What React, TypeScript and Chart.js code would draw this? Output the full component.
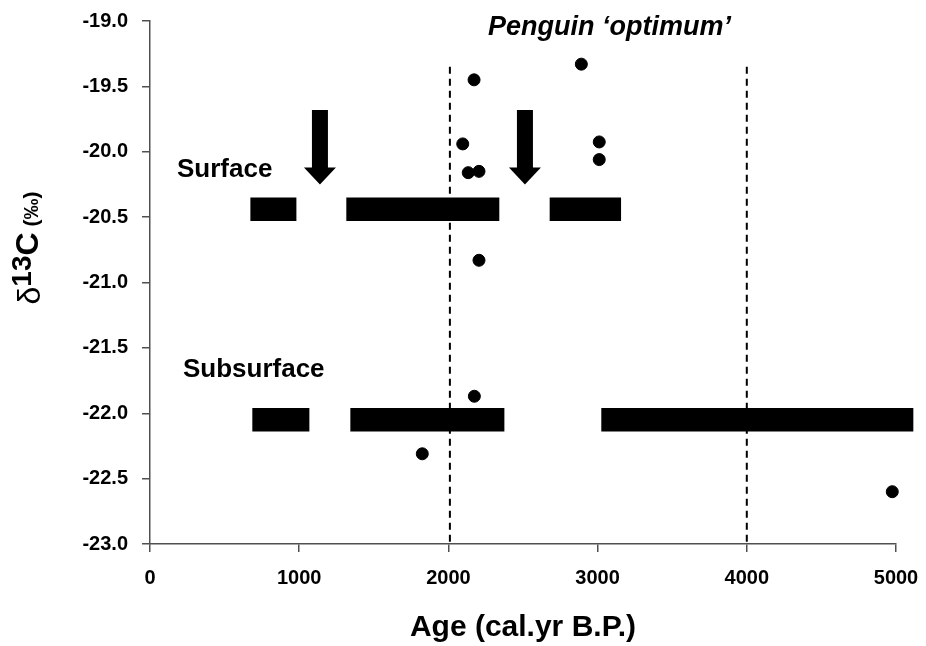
import { useEffect, useRef } from 'react';
import { Chart, registerables } from 'chart.js';

Chart.register(...registerables);

// ---- data ----
const surfaceLevel = -20.44;
const subsurfaceLevel = -22.05;
const surfaceRanges: [number, number][] = [[675, 979], [1318, 2339], [2681, 3155]];
const subsurfaceRanges: [number, number][] = [[688, 1066], [1345, 2373], [3027, 5114]];

const pointAges = [2172, 2891, 2096, 2133, 2205, 3011, 3011, 2205, 2174, 1825, 4975];
const pointD13C = [-19.45, -19.33, -19.94, -20.16, -20.15, -19.925, -20.06, -20.83, -21.87, -22.31, -22.6];

const optimumBounds = [2010, 4000];
const optimumLineTop = -19.35;

const arrowAges = [1139, 2513];
const arrowTop = -19.68;
const arrowHeadStart = -20.12;
const arrowTip = -20.25;

const xMin = 0, xMax = 5000, xStep = 1000;
const yMin = -23, yMax = -19, yStep = 0.5;

const labels = [
  { text: 'Surface', age: 181, d13c: -20.137, style: 'bold 26px "Liberation Sans", Arial, sans-serif' },
  { text: 'Subsurface', age: 221, d13c: -21.67, style: 'bold 26px "Liberation Sans", Arial, sans-serif' },
  { text: 'Penguin \u2018optimum\u2019', age: 2265, d13c: -19.05, style: 'italic bold 27px "Liberation Sans", Arial, sans-serif' },
];

const FONT = '"Liberation Sans", Arial, sans-serif';
const AXIS_COLOR = '#505050';

const annotationPlugin = {
  id: 'annotations',
  afterDatasetsDraw(chart: any) {
    const { ctx, scales } = chart;
    const xs = scales.x, ys = scales.y;
    ctx.save();
    ctx.fillStyle = '#000';
    arrowAges.forEach((a) => {
      const cx = xs.getPixelForValue(a);
      const top = ys.getPixelForValue(arrowTop);
      const hs = ys.getPixelForValue(arrowHeadStart);
      const tip = ys.getPixelForValue(arrowTip);
      const shaft = 8, head = 16;
      ctx.beginPath();
      ctx.moveTo(cx - shaft, top);
      ctx.lineTo(cx + shaft, top);
      ctx.lineTo(cx + shaft, hs);
      ctx.lineTo(cx + head, hs);
      ctx.lineTo(cx, tip);
      ctx.lineTo(cx - head, hs);
      ctx.lineTo(cx - shaft, hs);
      ctx.closePath();
      ctx.fill();
    });
    ctx.textAlign = 'left';
    ctx.textBaseline = 'middle';
    labels.forEach((l) => {
      ctx.font = l.style;
      ctx.fillText(l.text, xs.getPixelForValue(l.age), ys.getPixelForValue(l.d13c));
    });
    ctx.restore();
  },
  afterDraw(chart: any) {
    const ctx = chart.ctx;
    ctx.save();
    ctx.translate(38, 248);
    ctx.rotate(-Math.PI / 2);
    const parts = [
      { t: '\u03B4', font: `32px ${FONT}`, dy: 2 },
      { t: '13', font: `bold 28px ${FONT}`, dy: -7 },
      { t: 'C', font: `bold 32px ${FONT}`, dy: 0 },
      { t: ' (\u2030)', font: `bold 21px ${FONT}`, dy: 0 },
    ];
    let total = 0;
    const widths = parts.map((p) => {
      ctx.font = p.font;
      const w = ctx.measureText(p.t).width;
      total += w;
      return w;
    });
    let x = -total / 2;
    ctx.fillStyle = '#000';
    ctx.textAlign = 'left';
    ctx.textBaseline = 'alphabetic';
    parts.forEach((p, i) => {
      ctx.font = p.font;
      ctx.fillText(p.t, x, p.dy);
      x += widths[i];
    });
    ctx.restore();
  },
};

export default function App() {
  const ref = useRef<HTMLCanvasElement>(null);
  useEffect(() => {
    document.body.style.margin = '0';
    document.body.style.overflow = 'hidden';
    const canvas = ref.current!;
    const datasets: any[] = [];
    optimumBounds.forEach((b) => {
      datasets.push({
        type: 'line',
        data: [{ x: b, y: optimumLineTop }, { x: b, y: yMin }],
        borderColor: '#000',
        borderWidth: 2,
        borderDash: [7, 5],
        pointRadius: 0,
        fill: false,
        order: 3,
      });
    });
    datasets.push({
      type: 'bar',
      indexAxis: 'y',
      data: [
        ...surfaceRanges.map((r) => ({ x: r, y: surfaceLevel })),
        ...subsurfaceRanges.map((r) => ({ x: r, y: subsurfaceLevel })),
      ],
      backgroundColor: '#000',
      borderWidth: 0,
      barThickness: 23,
      grouped: false,
      clip: false,
      order: 2,
    });
    datasets.push({
      type: 'scatter',
      data: pointAges.map((a, i) => ({ x: a, y: pointD13C[i] })),
      backgroundColor: '#000',
      borderColor: '#000',
      pointRadius: 6,
      pointHoverRadius: 6,
      clip: false,
      order: 1,
    });

    const chart = new Chart(canvas, {
      type: 'scatter',
      data: { datasets },
      plugins: [annotationPlugin],
      options: {
        animation: false,
        responsive: false,
        events: [],
        layout: { padding: { top: 21, right: 30, left: 0, bottom: 0 } },
        plugins: { legend: { display: false }, tooltip: { enabled: false } },
        scales: {
          x: {
            type: 'linear',
            min: xMin,
            max: xMax,
            offset: false,
            afterFit: (s: any) => { s.height = 102; s.paddingLeft = 0; s.paddingRight = 0; },
            ticks: {
              stepSize: xStep,
              color: '#000',
              padding: 14,
              font: { family: FONT, size: 20, weight: 'bold' },
              callback: (v: any) => String(v),
            },
            grid: { display: true, offset: false, drawOnChartArea: false, drawTicks: true, tickLength: 8, color: AXIS_COLOR, lineWidth: 1.5 },
            border: { display: true, color: AXIS_COLOR, width: 1.5 },
            title: {
              display: true,
              text: 'Age (cal.yr B.P.)',
              color: '#000',
              padding: { top: 0, bottom: 0 },
              font: { family: FONT, size: 30, weight: 'bold' },
            },
          },
          y: {
            type: 'linear',
            min: yMin,
            max: yMax,
            offset: false,
            afterFit: (s: any) => { s.width = 150; s.paddingTop = 0; s.paddingBottom = 0; },
            ticks: {
              stepSize: yStep,
              color: '#000',
              padding: 14,
              font: { family: FONT, size: 20, weight: 'bold' },
              callback: (v: any) => Number(v).toFixed(1),
            },
            grid: { display: true, offset: false, drawOnChartArea: false, drawTicks: true, tickLength: 8, color: AXIS_COLOR, lineWidth: 1.5 },
            border: { display: true, color: AXIS_COLOR, width: 1.5 },
          },
        },
      } as any,
    });
    return () => chart.destroy();
  }, []);
  return <canvas ref={ref} width={926} height={646} style={{ display: 'block' }} />;
}
